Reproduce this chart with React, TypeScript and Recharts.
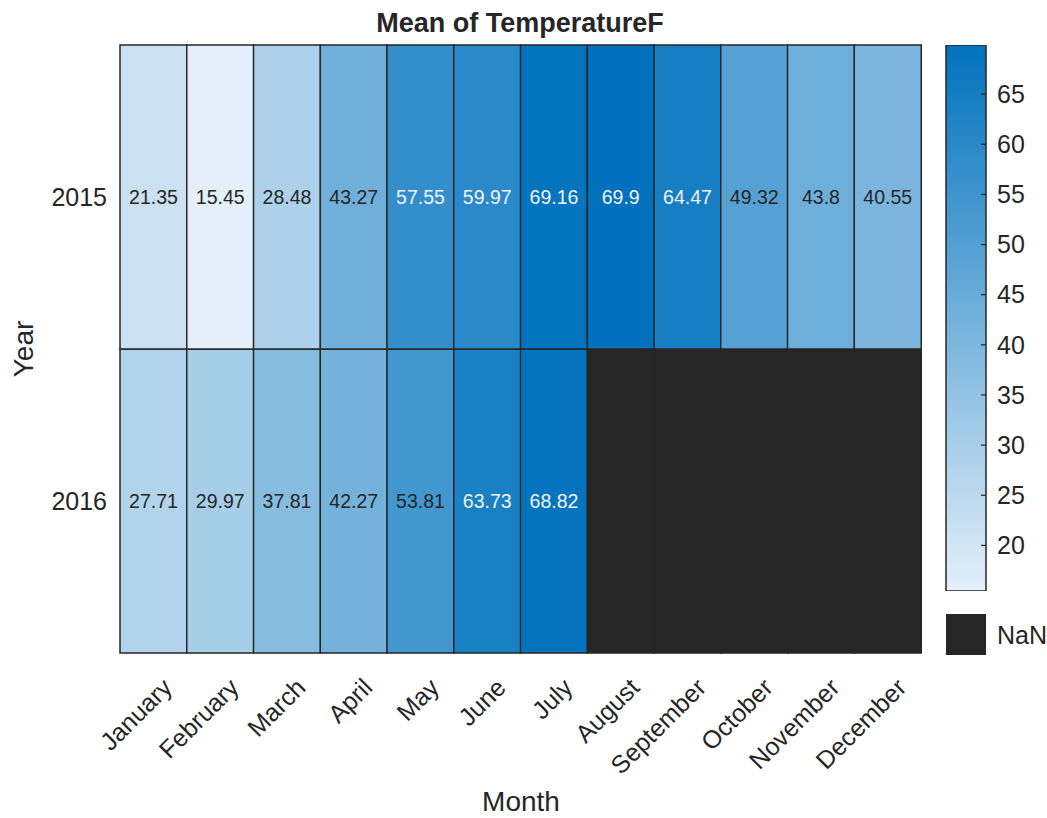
import React from "react";
import { BarChart, Bar, XAxis, YAxis, Cell, LabelList } from "recharts";

const months = [
  "January",
  "February",
  "March",
  "April",
  "May",
  "June",
  "July",
  "August",
  "September",
  "October",
  "November",
  "December",
];
const years = ["2015", "2016"];
const temps2015 = [21.35, 15.45, 28.48, 43.27, 57.55, 59.97, 69.16, 69.9, 64.47, 49.32, 43.8, 40.55];
const temps2016: (number | null)[] = [27.71, 29.97, 37.81, 42.27, 53.81, 63.73, 68.82, null, null, null, null, null];
const colorbarTicks = [20, 25, 30, 35, 40, 45, 50, 55, 60, 65];

const FONT = '"Liberation Sans", Arial, Helvetica, sans-serif';
const INK = "#262626";
const NAN_COLOR = "#262626";

const allValues = [...temps2015, ...temps2016].filter((v): v is number => v != null);
const vMin = Math.min(...allValues);
const vMax = Math.max(...allValues);

// light end and dark end of the blue map
const LOW = [228, 239, 249];
const HIGH = [0, 114, 189];

function rgbFor(v: number) {
  const t = Math.max(0, Math.min(1, (v - vMin) / (vMax - vMin)));
  return LOW.map((c, i) => Math.round(c + (HIGH[i] - c) * t));
}
function colorFor(v: number | null) {
  if (v == null) return NAN_COLOR;
  const [r, g, b] = rgbFor(v);
  return `rgb(${r},${g},${b})`;
}
function textColorFor(v: number) {
  const [r, g, b] = rgbFor(v);
  return 0.299 * r + 0.587 * g + 0.114 * b < 127 ? "#f2f2f2" : INK;
}

// one stacked segment per year, each one row tall
const data = months.map((m, i) => ({
  month: m,
  row2016: 1,
  row2015: 1,
  t2015: temps2015[i],
  t2016: temps2016[i],
}));

const cbData = [{ name: "cb", range: [vMin, vMax] }];

function CellLabel(props: any) {
  const { x, y, width, height, value } = props;
  if (value == null) return null;
  return (
    <text
      x={x + width / 2}
      y={y + height / 2}
      dy="0.35em"
      textAnchor="middle"
      fontFamily={FONT}
      fontSize={19.5}
      fill={textColorFor(value)}
    >
      {value}
    </text>
  );
}

function MonthTick(props: any) {
  const { x, y, payload } = props;
  return (
    <text
      transform={`translate(${x + 14},${y + 30}) rotate(-45)`}
      textAnchor="end"
      dy="0.35em"
      fontFamily={FONT}
      fontSize={25}
      fill={INK}
    >
      {payload.value}
    </text>
  );
}

function ColorbarTick(props: any) {
  const { x, y, payload } = props;
  return (
    <g>
      <line x1={x - 16} x2={x - 11} y1={y} y2={y} stroke={INK} strokeWidth={1.2} />
      <text x={x} y={y} dy="0.35em" textAnchor="start" fontFamily={FONT} fontSize={25} fill={INK}>
        {payload.value}
      </text>
    </g>
  );
}

export default function App() {
  return (
    <div
      style={{
        position: "absolute",
        left: 0,
        top: 0,
        width: 1047,
        height: 818,
        background: "#fff",
        fontFamily: FONT,
      }}
    >
      <div style={{ position: "absolute", left: 0, top: 0 }}>
        <BarChart
          width={960}
          height={818}
          data={data}
          margin={{ top: 45, right: 39, bottom: 65, left: 60 }}
          barCategoryGap={0}
          barGap={0}
        >
          <XAxis
            dataKey="month"
            type="category"
            interval={0}
            height={100}
            tickLine={false}
            axisLine={false}
            tickSize={0}
            tickMargin={0}
            tick={<MonthTick />}
          />
          <YAxis
            type="number"
            domain={[0, 2]}
            ticks={[0.5, 1.5]}
            width={60}
            tickLine={false}
            axisLine={false}
            tickSize={0}
            tickMargin={13}
            tickFormatter={(v) => (v === 1.5 ? years[0] : years[1])}
            tick={{ fontFamily: FONT, fontSize: 25, fill: INK }}
          />
          <Bar dataKey="row2016" stackId="a" isAnimationActive={false} stroke={INK} strokeWidth={1.5}>
            {data.map((d, i) => (
              <Cell key={i} fill={colorFor(d.t2016)} />
            ))}
            <LabelList dataKey="t2016" content={<CellLabel />} />
          </Bar>
          <Bar dataKey="row2015" stackId="a" isAnimationActive={false} stroke={INK} strokeWidth={1.5}>
            {data.map((d, i) => (
              <Cell key={i} fill={colorFor(d.t2015)} />
            ))}
            <LabelList dataKey="t2015" content={<CellLabel />} />
          </Bar>
        </BarChart>
      </div>

      <div style={{ position: "absolute", left: 930, top: 0 }}>
        <BarChart
          width={117}
          height={818}
          data={cbData}
          margin={{ top: 45, right: 0, bottom: 227, left: 16 }}
          barCategoryGap={0}
        >
          <defs>
            <linearGradient id="cbGrad" x1="0" y1="1" x2="0" y2="0">
              {Array.from({ length: 11 }, (_, k) => (
                <stop key={k} offset={k / 10} stopColor={colorFor(vMin + ((vMax - vMin) * k) / 10)} />
              ))}
            </linearGradient>
          </defs>
          <XAxis dataKey="name" hide />
          <YAxis
            orientation="right"
            type="number"
            domain={[vMin, vMax]}
            allowDataOverflow
            ticks={colorbarTicks}
            width={61}
            tickLine={false}
            axisLine={false}
            tickSize={0}
            tickMargin={11}
            tick={<ColorbarTick />}
          />
          <Bar dataKey="range" fill="url(#cbGrad)" stroke={INK} strokeWidth={1.5} isAnimationActive={false} />
        </BarChart>
      </div>

      <div
        style={{
          position: "absolute",
          left: 946,
          top: 614,
          width: 40,
          height: 41,
          background: NAN_COLOR,
          boxSizing: "border-box",
          border: `1.5px solid ${INK}`,
        }}
      />

      <svg
        width={1047}
        height={818}
        style={{ position: "absolute", left: 0, top: 0, pointerEvents: "none" }}
      >
        <text x={520} y={32} textAnchor="middle" fontFamily={FONT} fontSize={27} fontWeight="bold" fill={INK}>
          Mean of TemperatureF
        </text>
        <text x={521} y={811} textAnchor="middle" fontFamily={FONT} fontSize={28} fill={INK}>
          Month
        </text>
        <text
          transform="translate(33,349) rotate(-90)"
          textAnchor="middle"
          fontFamily={FONT}
          fontSize={28}
          fill={INK}
        >
          Year
        </text>
        <text x={997} y={635} dy="0.35em" fontFamily={FONT} fontSize={25} fill={INK}>
          NaN
        </text>
      </svg>
    </div>
  );
}
